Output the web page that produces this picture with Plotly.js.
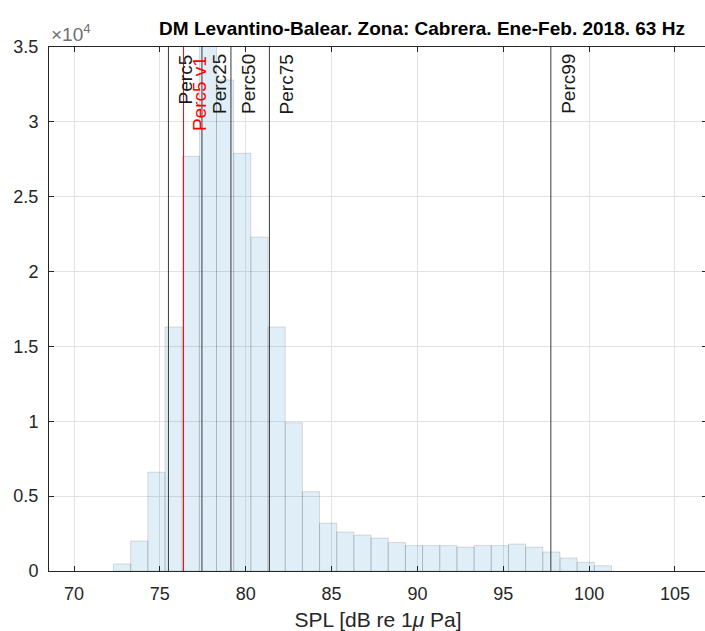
<!DOCTYPE html>
<html>
<head>
<meta charset="utf-8">
<script src="https://cdn.plot.ly/plotly-3.0.1.min.js"></script>
<style>html,body{margin:0;padding:0;overflow:hidden;background:#fff}</style>
</head>
<body>
<div id="chart"></div>
<script>
// Histogram bins (1 dB wide), centres in dB
const binCenters = [72.8, 73.8, 74.8, 75.8, 76.8, 77.8, 78.8, 79.8, 80.8, 81.8, 82.8, 83.8, 84.8,
  85.8, 86.8, 87.8, 88.8, 89.8, 90.8, 91.8, 92.8, 93.8, 94.8, 95.8, 96.8, 97.8, 98.8, 99.8, 100.8];
// Counts per bin
const binCounts = [470, 2000, 6600, 16300, 27700, 36000, 32800, 27900, 22300, 16300, 9900, 5300, 3200,
  2600, 2400, 2200, 1900, 1700, 1700, 1700, 1600, 1700, 1700, 1800, 1600, 1270, 870, 580, 350];
// Percentile lines
const percNames = ["Perc5", "Perc25", "Perc50", "Perc75", "Perc99"];
const percValues = [75.5, 77.45, 79.14, 81.38, 97.77];
const refName = "Perc5 v1";
const refValue = 76.38;
// Axis ticks
const yTickVals = [0, 5000, 10000, 15000, 20000, 25000, 30000, 35000];
const yTickText = ["0", "0.5", "1", "1.5", "2", "2.5", "3", "3.5"];
const xTickVals = [70, 75, 80, 85, 90, 95, 100, 105];

const axisColor = "#262626";
const gridColor = "#e3e3e3";
const fontFam = "Liberation Sans, Arial, Helvetica, sans-serif";

const traces = [{
  type: "bar",
  x: binCenters,
  y: binCounts,
  width: 1,
  marker: {color: "rgba(0,114,189,0.12)", line: {color: "rgba(0,0,0,0.13)", width: 1}},
  hoverinfo: "x+y"
}];

const shapes = [];
const annotations = [];
annotations.push({x: 0, xref: "paper", y: 1, yref: "paper", text: "×10<sup>4</sup>",
  showarrow: false, xanchor: "left", yanchor: "bottom", xshift: 0, yshift: 0,
  font: {family: fontFam, size: 19, color: "#707070"}});
percValues.forEach((v, i) => {
  shapes.push({type: "line", xref: "x", yref: "paper", x0: v, x1: v, y0: 0, y1: 1,
    line: {color: "#3a3a3a", width: 1}});
  annotations.push({x: v, xref: "x", y: 1, yref: "paper", text: percNames[i], textangle: -90,
    showarrow: false, xanchor: "center", yanchor: "top", xshift: 17, yshift: -5,
    font: {family: fontFam, size: 19, color: "#1a1a1a"}});
});
shapes.push({type: "line", xref: "x", yref: "paper", x0: refValue, x1: refValue, y0: 0, y1: 1,
  line: {color: "#ff0000", width: 1}});
annotations.push({x: refValue, xref: "x", y: 1, yref: "paper", text: refName, textangle: -90,
  showarrow: false, xanchor: "center", yanchor: "top", xshift: 16, yshift: -7,
  font: {family: fontFam, size: 19, color: "#ff0000"}});

const layout = {
  width: 707, height: 631,
  margin: {l: 49, r: 0, t: 47, b: 60},
  paper_bgcolor: "#ffffff", plot_bgcolor: "#ffffff",
  showlegend: false,
  bargap: 0,
  title: {text: "<b>DM Levantino-Balear. Zona: Cabrera. Ene-Feb. 2018. 63 Hz</b>",
    xref: "container", x: 422 / 707, xanchor: "center",
    yref: "container", y: 1 - 28 / 631, yanchor: "middle",
    font: {family: fontFam, size: 19, color: "#000000"}},
  xaxis: {range: [68.544, 106.864], tickvals: xTickVals, ticks: "inside", ticklen: 5,
    tickcolor: axisColor, showline: true, linecolor: axisColor, linewidth: 1, mirror: "ticks",
    showgrid: true, gridcolor: gridColor, zeroline: false, ticklabelstandoff: 6,
    tickfont: {family: fontFam, size: 18, color: axisColor},
    title: {text: "SPL [dB re 1<i>μ</i> Pa]", standoff: 9,
      font: {family: fontFam, size: 21, color: axisColor}}},
  yaxis: {range: [0, 35000], tickvals: yTickVals, ticktext: yTickText, ticks: "inside", ticklen: 5,
    tickcolor: axisColor, showline: true, linecolor: axisColor, linewidth: 1, mirror: "ticks",
    showgrid: true, gridcolor: gridColor, zeroline: false, ticklabelstandoff: 6,
    tickfont: {family: fontFam, size: 18, color: axisColor}},
  shapes: shapes,
  annotations: annotations
};

Plotly.newPlot("chart", traces, layout, {displayModeBar: false, staticPlot: true});
</script>
</body>
</html>
